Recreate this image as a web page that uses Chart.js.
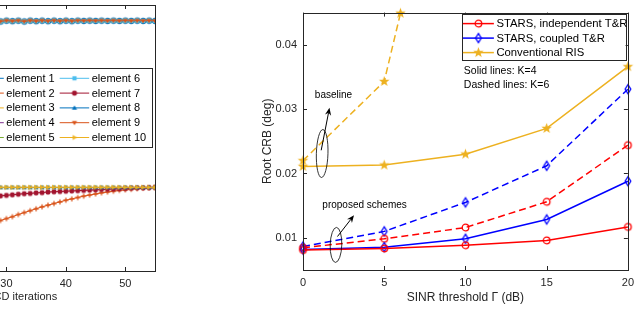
<!DOCTYPE html>
<html>
<head>
<meta charset="utf-8">
<script src="https://cdn.jsdelivr.net/npm/chart.js@4.4.0/dist/chart.umd.min.js"></script>
<style>
  html, body { margin: 0; padding: 0; background: #fff; overflow: hidden; }
  #wrap { position: relative; width: 640px; height: 332px; overflow: hidden; background: #fff; }
  #iterChart { position: absolute; left: -260px; top: 0; }
  #crbChart { position: absolute; left: 250px; top: 0; }
</style>
</head>
<body>
<div id="wrap">
  <canvas id="iterChart" width="420" height="332"></canvas>
  <canvas id="crbChart" width="390" height="332"></canvas>
</div>
<script>
// ---- right plot data (root CRB vs SINR threshold) ----
const sinrThresholds = [0, 5, 10, 15, 20];
const crbIndepK4 = [0.0081, 0.00835, 0.00885, 0.0096, 0.0117];
const crbIndepK6 = [0.00845, 0.00985, 0.0116, 0.0156, 0.0244];
const crbCoupledK4 = [0.0082, 0.00855, 0.00985, 0.01285, 0.0188];
const crbCoupledK6 = [0.00865, 0.0110, 0.0155, 0.0212, 0.0331];
const crbRisK4 = [0.0211, 0.0213, 0.0230, 0.0270, 0.0366];
const risK6Thresholds = [0, 5, 6];
const crbRisK6 = [0.0220, 0.0343, 0.0449];
const seriesNames = ["STARS, independent T&R", "STARS, coupled T&R", "Conventional RIS"];
const crbTicks = [0.01, 0.02, 0.03, 0.04];
const sinrTicks = [0, 5, 10, 15, 20];

// ---- left plot data (element values vs iterations, visible part only) ----
const iterations = [27, 28, 29, 30, 31, 32, 33, 34, 35, 36, 37, 38, 39, 40, 41,
  42, 43, 44, 45, 46, 47, 48, 49, 50, 51, 52, 53, 54, 55];
const upperLevel = [0.941, 0.943, 0.940, 0.943, 0.941, 0.943, 0.940, 0.943, 0.941, 0.943,
  0.941, 0.943, 0.941, 0.943, 0.941, 0.943, 0.942, 0.943, 0.942, 0.943,
  0.942, 0.943, 0.942, 0.943, 0.942, 0.943, 0.942, 0.943, 0.942];
const lowerLevel = [0.335, 0.335, 0.335, 0.335, 0.335, 0.335, 0.335, 0.335, 0.335, 0.335,
  0.335, 0.335, 0.335, 0.335, 0.335, 0.335, 0.335, 0.335, 0.335, 0.335,
  0.335, 0.335, 0.335, 0.335, 0.335, 0.335, 0.335, 0.335, 0.335];
const element7Curve = [0.300, 0.302, 0.304, 0.306, 0.308, 0.310, 0.312, 0.313, 0.315, 0.316,
  0.318, 0.319, 0.320, 0.321, 0.322, 0.323, 0.324, 0.325, 0.326, 0.327,
  0.328, 0.329, 0.330, 0.331, 0.332, 0.333, 0.333, 0.334, 0.335];
const element2Curve = [0.200, 0.207, 0.214, 0.221, 0.228, 0.236, 0.243, 0.250, 0.257, 0.264,
  0.270, 0.276, 0.282, 0.288, 0.293, 0.298, 0.303, 0.307, 0.311, 0.315,
  0.318, 0.321, 0.324, 0.326, 0.328, 0.330, 0.332, 0.333, 0.334];
const iterTicks = [10, 20, 30, 40, 50];

const FONT = '"Liberation Sans", Arial, sans-serif';
const AXIS = "#262626";
const RED = "#ff0000", BLUE = "#0000ff", GOLD = "#edb120";

const toPoints = (xs, ys) => xs.map((x, i) => ({ x, y: ys[i] }));

// small canvases used as point styles (MATLAB-like markers)
function makeMarker(kind, color, r, filled) {
  const s = Math.ceil(r * 2 + 4);
  const c = document.createElement("canvas");
  c.width = c.height = s;
  const g = c.getContext("2d");
  const m = s / 2;
  g.strokeStyle = color;
  g.fillStyle = color;
  g.lineWidth = 1.3;
  g.beginPath();
  if (kind === "circle") {
    g.arc(m, m, r, 0, Math.PI * 2);
  } else if (kind === "diamond") {
    g.moveTo(m, m - r); g.lineTo(m + r * 0.62, m); g.lineTo(m, m + r); g.lineTo(m - r * 0.62, m); g.closePath();
  } else if (kind === "star") {
    for (let i = 0; i < 10; i++) {
      const rad = i % 2 === 0 ? r : r * 0.42;
      const a = -Math.PI / 2 + i * Math.PI / 5;
      const px = m + rad * Math.cos(a), py = m + rad * Math.sin(a);
      i === 0 ? g.moveTo(px, py) : g.lineTo(px, py);
    }
    g.closePath();
  } else if (kind === "square") {
    g.rect(m - r * 0.8, m - r * 0.8, r * 1.6, r * 1.6);
  } else if (kind === "triUp") {
    g.moveTo(m, m - r); g.lineTo(m + r, m + r * 0.7); g.lineTo(m - r, m + r * 0.7); g.closePath();
  } else if (kind === "triDown") {
    g.moveTo(m, m + r); g.lineTo(m + r, m - r * 0.7); g.lineTo(m - r, m - r * 0.7); g.closePath();
  } else if (kind === "triRight") {
    g.moveTo(m + r, m); g.lineTo(m - r * 0.7, m - r); g.lineTo(m - r * 0.7, m + r); g.closePath();
  } else if (kind === "plus") {
    g.moveTo(m - r, m); g.lineTo(m + r, m); g.moveTo(m, m - r); g.lineTo(m, m + r);
  } else if (kind === "asterisk") {
    g.lineWidth = 1.6;
    for (let i = 0; i < 4; i++) {
      const a = i * Math.PI / 4;
      g.moveTo(m - r * Math.cos(a), m - r * Math.sin(a));
      g.lineTo(m + r * Math.cos(a), m + r * Math.sin(a));
    }
  } else if (kind === "cross") {
    g.moveTo(m - r * 0.7, m - r * 0.7); g.lineTo(m + r * 0.7, m + r * 0.7);
    g.moveTo(m + r * 0.7, m - r * 0.7); g.lineTo(m - r * 0.7, m + r * 0.7);
  } else if (kind === "dot") {
    g.arc(m, m, r * 0.5, 0, Math.PI * 2);
  }
  filled ? g.fill() : g.stroke();
  return c;
}

// MATLAB-style box with inward ticks
const boxPlugin = {
  id: "matlabBox",
  afterDraw(chart, args, opts) {
    const { ctx, chartArea: a, scales } = chart;
    const len = 4;
    ctx.save();
    ctx.strokeStyle = AXIS;
    ctx.lineWidth = 1;
    ctx.beginPath();
    scales.x.ticks.forEach((t) => {
      const px = Math.round(scales.x.getPixelForValue(t.value)) + 0.5;
      ctx.moveTo(px, a.bottom); ctx.lineTo(px, a.bottom - len);
      ctx.moveTo(px, a.top); ctx.lineTo(px, a.top + len);
    });
    if (opts.yTicks) {
      scales.y.ticks.forEach((t) => {
        const py = Math.round(scales.y.getPixelForValue(t.value)) + 0.5;
        ctx.moveTo(a.left, py); ctx.lineTo(a.left + len, py);
        ctx.moveTo(a.right, py); ctx.lineTo(a.right - len, py);
      });
    }
    ctx.stroke();
    ctx.strokeRect(Math.round(a.left) + 0.5, Math.round(a.top) + 0.5, Math.round(a.width), Math.round(a.height));
    ctx.restore();
  }
};

// boxed legend with line + marker samples
const boxLegendPlugin = {
  id: "boxLegend",
  afterDraw(chart, args, opts) {
    if (!opts.items) return;
    const { ctx, chartArea: a } = chart;
    const right = a.right + opts.dx;
    const left = right - opts.width;
    const top = a.top + opts.dy;
    ctx.save();
    ctx.fillStyle = "#fff";
    ctx.fillRect(left, top, opts.width, opts.height);
    ctx.strokeStyle = AXIS;
    ctx.lineWidth = 1;
    ctx.strokeRect(Math.round(left) + 0.5, Math.round(top) + 0.5, Math.round(opts.width), Math.round(opts.height));
    ctx.font = opts.fontSize + "px " + FONT;
    ctx.textBaseline = "middle";
    opts.items.forEach((idx, k) => {
      const ds = chart.data.datasets[idx];
      const col = Math.floor(k / opts.rows), row = k % opts.rows;
      const x0 = left + opts.padLeft + col * opts.colWidth;
      const y = top + opts.firstRow + row * opts.rowStep;
      ctx.strokeStyle = ds.borderColor;
      ctx.lineWidth = ds.borderWidth;
      ctx.setLineDash([]);
      ctx.beginPath();
      ctx.moveTo(x0, y); ctx.lineTo(x0 + opts.sample, y);
      ctx.stroke();
      const img = ds.pointStyle;
      ctx.drawImage(img, x0 + opts.sample / 2 - img.width / 2, y - img.height / 2);
      ctx.fillStyle = "#000";
      ctx.fillText(ds.label, x0 + opts.sample + 2.5, y + 0.5);
    });
    ctx.restore();
  }
};

// text, ellipses and arrows of the right plot
const notesPlugin = {
  id: "notes",
  afterDraw(chart, args, opts) {
    if (!opts.texts) return;
    const { ctx, scales: { x, y } } = chart;
    ctx.save();
    ctx.fillStyle = "#000";
    ctx.textBaseline = "middle";
    opts.texts.forEach((t) => {
      ctx.font = t.size + "px " + FONT;
      ctx.fillText(t.text, x.getPixelForValue(t.x), y.getPixelForValue(t.y));
    });
    ctx.strokeStyle = "#000";
    ctx.lineWidth = 0.8;
    opts.ellipses.forEach((e) => {
      ctx.beginPath();
      ctx.ellipse(x.getPixelForValue(e.x), y.getPixelForValue(e.y), e.rx, e.ry, e.rot, 0, Math.PI * 2);
      ctx.stroke();
    });
    opts.arrows.forEach((ar) => {
      const x1 = x.getPixelForValue(ar.x1), y1 = y.getPixelForValue(ar.y1);
      const x2 = x.getPixelForValue(ar.x2), y2 = y.getPixelForValue(ar.y2);
      const ang = Math.atan2(y2 - y1, x2 - x1);
      ctx.lineWidth = 1;
      ctx.beginPath();
      ctx.moveTo(x1, y1); ctx.lineTo(x2 - 5 * Math.cos(ang), y2 - 5 * Math.sin(ang));
      ctx.stroke();
      ctx.beginPath();
      ctx.moveTo(x2, y2);
      ctx.lineTo(x2 - 8 * Math.cos(ang - 0.4), y2 - 8 * Math.sin(ang - 0.4));
      ctx.lineTo(x2 - 5 * Math.cos(ang), y2 - 5 * Math.sin(ang));
      ctx.lineTo(x2 - 8 * Math.cos(ang + 0.4), y2 - 8 * Math.sin(ang + 0.4));
      ctx.closePath();
      ctx.fillStyle = "#000";
      ctx.fill();
    });
    ctx.restore();
  }
};

const tickFont = { family: FONT, size: 11 };
const titleFont = { family: FONT, size: 12 };

// ---------- right chart ----------
const circleMk = makeMarker("circle", RED, 3.3, false);
const diamondMk = makeMarker("diamond", BLUE, 4.6, false);
const starMk = makeMarker("star", GOLD, 5.5, true);

function crbSet(label, xs, ys, color, marker, dashed) {
  return {
    label, data: toPoints(xs, ys), borderColor: color, backgroundColor: color,
    borderWidth: 1.5, borderDash: dashed ? [7, 4] : [], pointStyle: marker,
    pointRadius: 4, tension: 0, clip: false
  };
}

new Chart(document.getElementById("crbChart"), {
  type: "line",
  data: {
    datasets: [
      crbSet(seriesNames[0], sinrThresholds, crbIndepK4, RED, circleMk, false),
      crbSet(seriesNames[1], sinrThresholds, crbCoupledK4, BLUE, diamondMk, false),
      crbSet(seriesNames[2], sinrThresholds, crbRisK4, GOLD, starMk, false),
      crbSet(seriesNames[0] + ", K=6", sinrThresholds, crbIndepK6, RED, circleMk, true),
      crbSet(seriesNames[1] + ", K=6", sinrThresholds, crbCoupledK6, BLUE, diamondMk, true),
      crbSet(seriesNames[2] + ", K=6", risK6Thresholds, crbRisK6, GOLD, starMk, true)
    ]
  },
  options: {
    responsive: false,
    animation: false,
    layout: { padding: { top: 5, right: 6, left: 0, bottom: 0 } },
    scales: {
      x: {
        type: "linear", min: 0, max: 20,
        grid: { display: false, drawTicks: false }, border: { display: false },
        afterBuildTicks: (s) => { s.ticks = sinrTicks.map((v) => ({ value: v })); },
        ticks: { color: AXIS, font: tickFont, padding: 6, maxRotation: 0, autoSkip: false, callback: (v) => String(v) },
        title: { display: true, text: "SINR threshold Γ (dB)", color: AXIS, font: titleFont, padding: { top: 0, bottom: 26.8 } },
        afterFit: (s) => { s.height = 62; }
      },
      y: {
        min: 0.005, max: 0.045,
        grid: { display: false, drawTicks: false }, border: { display: false },
        afterBuildTicks: (s) => { s.ticks = crbTicks.map((v) => ({ value: v })); },
        ticks: { color: AXIS, font: tickFont, padding: 6, autoSkip: false, callback: (v) => v.toFixed(2) },
        title: { display: true, text: "Root CRB (deg)", color: AXIS, font: titleFont, padding: { top: 10.8, bottom: 0 } },
        afterFit: (s) => { s.width = 53; }
      }
    },
    plugins: {
      legend: { display: false },
      tooltip: { enabled: false },
      matlabBox: { yTicks: true },
      boxLegend: {
        items: [0, 1, 2], rows: 3, dx: -2.3, dy: 1.7, width: 164, height: 45.6, fontSize: 11.3,
        padLeft: 1.3, colWidth: 0, firstRow: 9.3, rowStep: 14.5, sample: 31
      },
      notes: {
        texts: [
          { text: "Solid lines: K=4", x: 9.9, y: 0.03595, size: 10.5 },
          { text: "Dashed lines: K=6", x: 9.9, y: 0.0337, size: 10.5 },
          { text: "baseline", x: 0.73, y: 0.0321, size: 10 },
          { text: "proposed schemes", x: 1.19, y: 0.0150, size: 10 }
        ],
        ellipses: [
          { x: 1.18, y: 0.0231, rx: 5.8, ry: 24, rot: 0.03 },
          { x: 2.03, y: 0.0089, rx: 5.8, ry: 17.5, rot: 0.03 }
        ],
        arrows: [
          { x1: 1.12, y1: 0.0236, x2: 1.63, y2: 0.0302 },
          { x1: 2.12, y1: 0.0102, x2: 3.14, y2: 0.0135 }
        ]
      }
    }
  },
  plugins: [boxPlugin, boxLegendPlugin, notesPlugin]
});

// ---------- left chart ----------
const MBLUE = "#0072bd", MORANGE = "#d95319", MYELLOW = "#edb120", MPURPLE = "#7e2f8e",
  MGREEN = "#77ac30", MLIGHT = "#4dbeee", MDARK = "#a2142f";

const elementStyles = [
  { color: MBLUE, mk: "circle", filled: false, curve: upperLevel },
  { color: MORANGE, mk: "plus", filled: false, curve: element2Curve },
  { color: MYELLOW, mk: "cross", filled: false, curve: lowerLevel },
  { color: MPURPLE, mk: "dot", filled: true, curve: upperLevel },
  { color: MGREEN, mk: "cross", filled: false, curve: upperLevel },
  { color: MLIGHT, mk: "square", filled: true, curve: upperLevel },
  { color: MDARK, mk: "asterisk", filled: false, curve: element7Curve },
  { color: MBLUE, mk: "triUp", filled: true, curve: lowerLevel },
  { color: MORANGE, mk: "triDown", filled: true, curve: upperLevel },
  { color: MYELLOW, mk: "triRight", filled: true, curve: lowerLevel }
];

new Chart(document.getElementById("iterChart"), {
  type: "line",
  data: {
    datasets: elementStyles.map((st, i) => ({
      label: "element " + (i + 1),
      data: toPoints(iterations, st.curve),
      borderColor: st.color, backgroundColor: st.color, borderWidth: 1,
      pointStyle: makeMarker(st.mk, st.color, 2.6, st.filled), pointRadius: 3,
      tension: 0, order: 10 - i
    }))
  },
  options: {
    responsive: false,
    animation: false,
    layout: { padding: { top: 5, right: 2, left: 0, bottom: 0 } },
    scales: {
      x: {
        type: "linear", min: 1, max: 55,
        grid: { display: false, drawTicks: false }, border: { display: false },
        afterBuildTicks: (s) => { s.ticks = iterTicks.map((v) => ({ value: v })); },
        ticks: { color: AXIS, font: tickFont, padding: 6, maxRotation: 0, autoSkip: false, callback: (v) => String(v) },
        title: { display: true, text: "Number of BCD iterations", color: AXIS, font: tickFont, padding: { top: 0, bottom: 28 } },
        afterFit: (s) => { s.height = 61; }
      },
      y: {
        min: 0.03, max: 1,
        grid: { display: false, drawTicks: false }, border: { display: false },
        ticks: { display: false },
        afterFit: (s) => { s.width = 94; }
      }
    },
    plugins: {
      legend: { display: false },
      tooltip: { enabled: false },
      matlabBox: { yTicks: false },
      boxLegend: {
        items: [0, 1, 2, 3, 4, 5, 6, 7, 8, 9], rows: 5, dx: -3.3, dy: 63, width: 179, height: 79, fontSize: 11,
        padLeft: 1.6, colWidth: 85.4, firstRow: 10.3, rowStep: 14.8, sample: 29.5
      }
    }
  },
  plugins: [boxPlugin, boxLegendPlugin]
});
</script>
</body>
</html>
